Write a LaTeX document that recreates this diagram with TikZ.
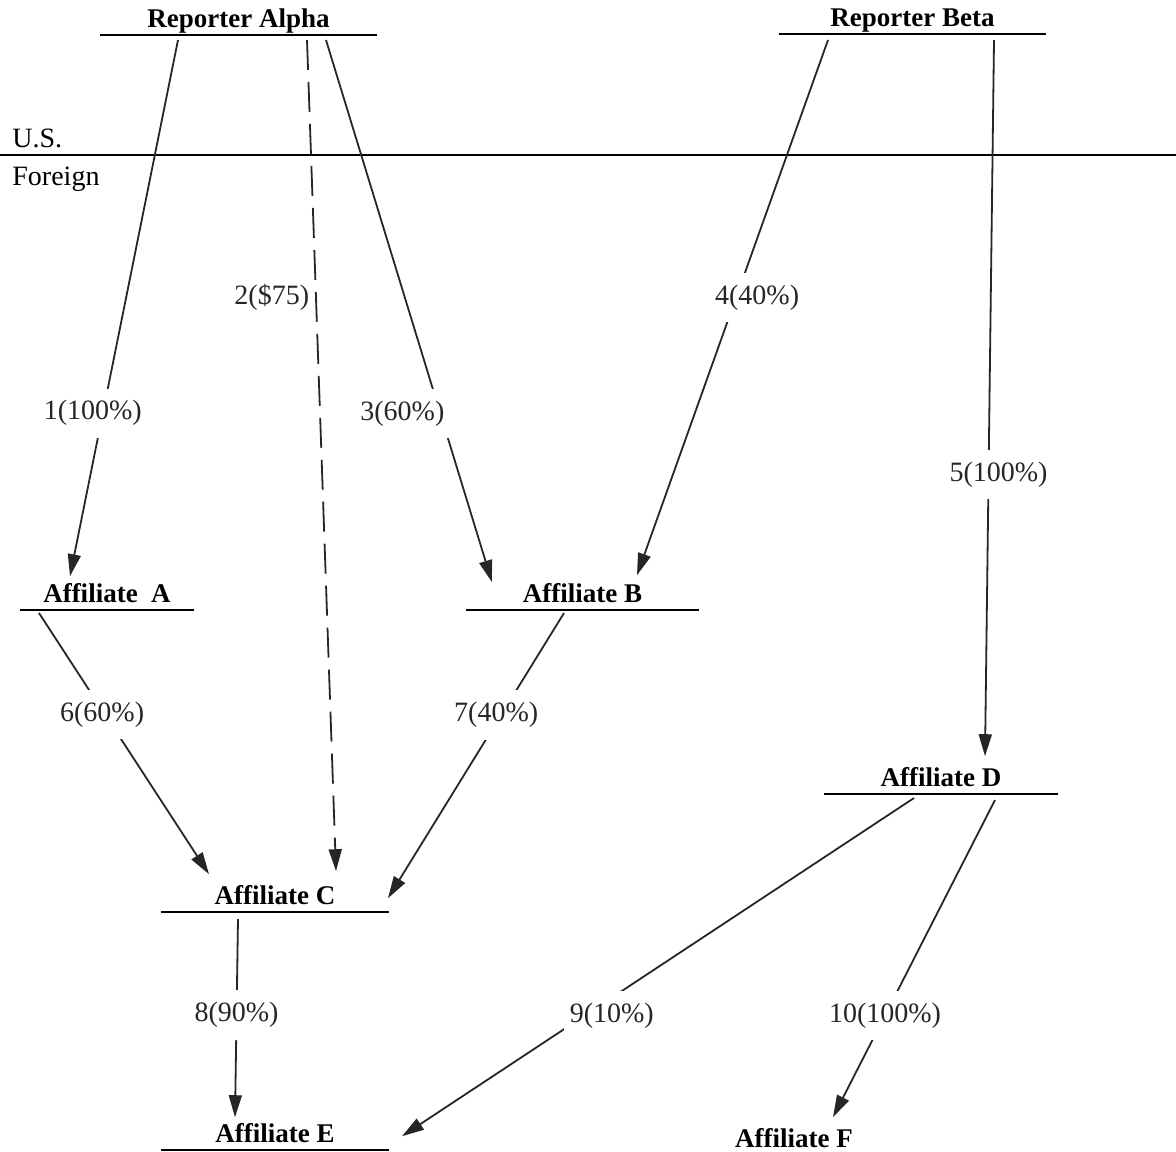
\documentclass[tikz,border=0pt]{standalone}
\usepackage{fontspec}
\setmainfont{Liberation Serif}
\usetikzlibrary{arrows.meta,calc}

\begin{document}
\begin{tikzpicture}[x=0.5pt, y=-0.5pt,
    font=\fontsize{14}{16}\selectfont,
    >={Triangle[length=11pt,width=6.5pt]},
    ent/.style={font=\fontsize{13.5}{16}\selectfont\bfseries,
                minimum width=#1, inner xsep=0pt, inner ysep=0pt,
                text height=10pt, text depth=3.5pt, anchor=south},
    uline/.style={line width=1.2pt},
    arr/.style={->, line width=0.9pt, black!85},
    pct/.style={fill=white, inner xsep=3pt, inner ysep=6pt}]

  \useasboundingbox (0,0) rectangle (1176,1151);

  %% U.S. / Foreign border
  \draw[line width=1pt] (0,155) -- (1176,155);
  \node[anchor=base west, inner sep=0pt] (us) at (12,147) {U.S.};
  \node[anchor=base west, inner sep=0pt] (fo) at (12,185) {Foreign};

  %% Reporters
  \node[ent=138.5pt] (ra) at (238.5,35) {Reporter Alpha};
  \node[ent=133.5pt] (rb) at (912.5,34) {Reporter Beta};

  %% Affiliates
  \node[ent=87pt]    (aa) at (107,610)   {Affiliate\ \ A};
  \node[ent=116.5pt] (ab) at (582.5,610) {Affiliate B};
  \node[ent=114pt]   (ac) at (275,912)   {Affiliate C};
  \node[ent=117pt]   (ad) at (941,794)   {Affiliate D};
  \node[ent=114pt]   (ae) at (275,1150)  {Affiliate E};
  \node[ent=114pt]   (af) at (794,1155)  {Affiliate F};

  %% Underlines
  \foreach \n in {ra,rb,aa,ab,ac,ad,ae}
    \draw[uline] (\n.south west) -- (\n.south east);

  %% Ownership links
  \draw[arr] ($(ra.south)+(-60.5,5)$) --
    node[pct, pos=.696, xshift=-5pt] (l1) {1(100\%)} ($(aa.north)+(-37,-6)$);
  \draw[arr, dash pattern=on 15pt off 6pt] ($(ra.south)+(68.5,5)$) --
    node[pos=.31, left=1pt, inner sep=2pt] (l2) {2(\$75)} ($(ac.north)+(61,-13)$);
  \draw[arr] ($(ra.south)+(87.5,5)$) --
    node[pct, pos=.689, xshift=-19pt] (l3) {3(60\%)} ($(ab.north)+(-90.5,0)$);
  \draw[arr] ($(rb.south)+(-84.5,6)$) --
    node[pct, pos=.481, xshift=10.5pt] (l4) {4(40\%)} ($(ab.north)+(54.5,-7)$);
  \draw[arr] ($(rb.south)+(81.5,6)$) --
    node[pct, pos=.607, xshift=5pt] (l5) {5(100\%)} ($(ad.north)+(44,-10)$);
  \draw[arr] ($(aa.south)+(-68,3)$) --
    node[pct, pos=.389, xshift=-1.5pt] (l6) {6(60\%)} ($(ac.north)+(-66,-10)$);
  \draw[arr] ($(ab.south)+(-18.5,3)$) --
    node[pct, pos=.357, xshift=-2.5pt] (l7) {7(40\%)} ($(ac.north)+(113,14)$);
  \draw[arr] ($(ac.south)+(-37,7)$) --
    node[pct, pos=.485] (l8) {8(90\%)} ($(ae.north)+(-40,-5)$);
  \draw[arr] ($(ad.south)+(-27,4)$) --
    node[pct, pos=.645, xshift=14pt] (l9) {9(10\%)} ($(ae.north)+(127,14)$);
  \draw[arr] ($(ad.south)+(54,6)$) --
    node[pct, pos=.679] (l10) {10(100\%)} ($(af.north)+(39,-10)$);
\end{tikzpicture}
\end{document}
